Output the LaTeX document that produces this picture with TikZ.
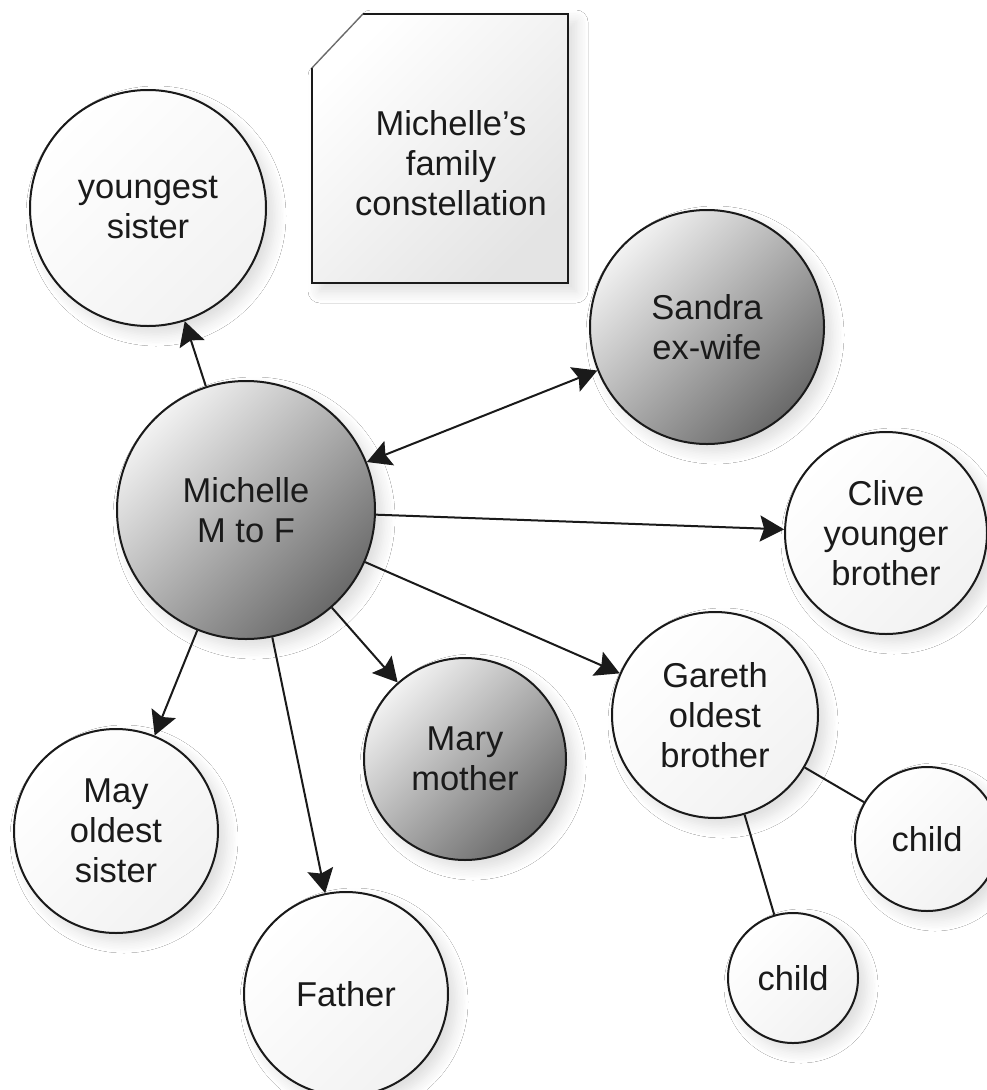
\documentclass[tikz,border=0pt]{standalone}
\usepackage{fontspec}
\setmainfont{Liberation Sans}
\usetikzlibrary{arrows.meta,shadows.blur,backgrounds}
\definecolor{lightbot}{HTML}{F2F2F2}
\definecolor{darktop}{HTML}{F2F2F2}
\definecolor{darkbot}{HTML}{6A6A6A}
\definecolor{notebot}{HTML}{E4E4E4}
\definecolor{ink}{HTML}{1A1A1A}
\begin{document}
\begin{tikzpicture}[x=1pt,y=-1pt,
  softshadow/.style={blur shadow={shadow xshift=8pt, shadow yshift=-8pt, shadow blur radius=12pt, shadow blur steps=8, shadow opacity=14}},
  person/.style={circle, draw=ink, line width=2pt, inner sep=0pt, align=center,
    font=\fontsize{34.5}{40}\selectfont, text=ink, softshadow},
  lightp/.style={person, top color=white, bottom color=lightbot, shading angle=45},
  darkp/.style={person, top color=darktop, bottom color=darkbot, shading angle=45},
  link/.style={line width=2pt, draw=ink},
  tip/.tip={Stealth[length=24pt,width=26pt,inset=4pt]},
  arr/.style={link, -tip},
  arrboth/.style={link, tip-tip},
  ghost/.style={line width=2pt, draw=black!6, fill=black!6,
    transform canvas={xshift=22pt,yshift=-26pt}},
]
\useasboundingbox (0,0) rectangle (987,1090);
\fill[white] (0,0) rectangle (987,1090);

% note
\path[top color=white, bottom color=notebot, shading angle=45, softshadow]
  (312,68) -- (363,14) -- (568,14) -- (568,283) -- (312,283) -- cycle;
\draw[line width=2.5pt, draw=ink] (363,14) -- (568,14) -- (568,283) -- (312,283) -- (312,68);
\draw[line width=1.2pt, draw=black!60] (312,68) -- (363,14);
\node[font=\fontsize{34.5}{40}\selectfont, text=ink, align=center] (title) at (451,163)
  {Michelle's\\family\\constellation};

% people
\node[lightp, minimum size=236pt] (ys) at (148,208) {youngest\\sister};
\node[darkp, minimum size=258pt] (mich) at (246,510) {Michelle\\M to F};
\node[darkp, minimum size=234pt] (sandra) at (707,327) {Sandra\\ex-wife};
\node[lightp, minimum size=202pt] (clive) at (886,533) {Clive\\younger\\brother};
\node[lightp, minimum size=206pt] (gareth) at (715,715) {Gareth\\oldest\\brother};
\node[darkp, minimum size=202pt] (mary) at (465,759) {Mary\\mother};
\node[lightp, minimum size=204pt] (may) at (116,831) {May\\oldest\\sister};
\node[lightp, minimum size=204pt] (father) at (346,994) {Father};
\node[lightp, minimum size=144pt] (childr) at (927,839) {child};
\node[lightp, minimum size=130pt] (childb) at (793,978) {child};

% faint connector shadows
\begin{pgfonlayer}{background}
\draw[ghost, -tip] (mich) -- (ys);
\draw[ghost, tip-tip] (mich) -- (sandra);
\draw[ghost, -tip] (mich) -- (clive);
\draw[ghost, -tip] (mich) -- (gareth);
\draw[ghost, -tip] (mich) -- (mary);
\draw[ghost, -tip] (mich) -- (father);
\draw[ghost, -tip] (mich) -- (may);
\draw[ghost] (gareth) -- (childr);
\draw[ghost] (gareth) -- (childb);
\end{pgfonlayer}

% connectors
\draw[arr] (mich) -- (ys);
\draw[arrboth] (mich) -- (sandra);
\draw[arr] (mich) -- (clive);
\draw[arr] (mich) -- (gareth);
\draw[arr] (mich) -- (mary);
\draw[arr] (mich) -- (father);
\draw[arr] (mich) -- (may);
\draw[link] (gareth) -- (childr);
\draw[link] (gareth) -- (childb);
\end{tikzpicture}
\end{document}
